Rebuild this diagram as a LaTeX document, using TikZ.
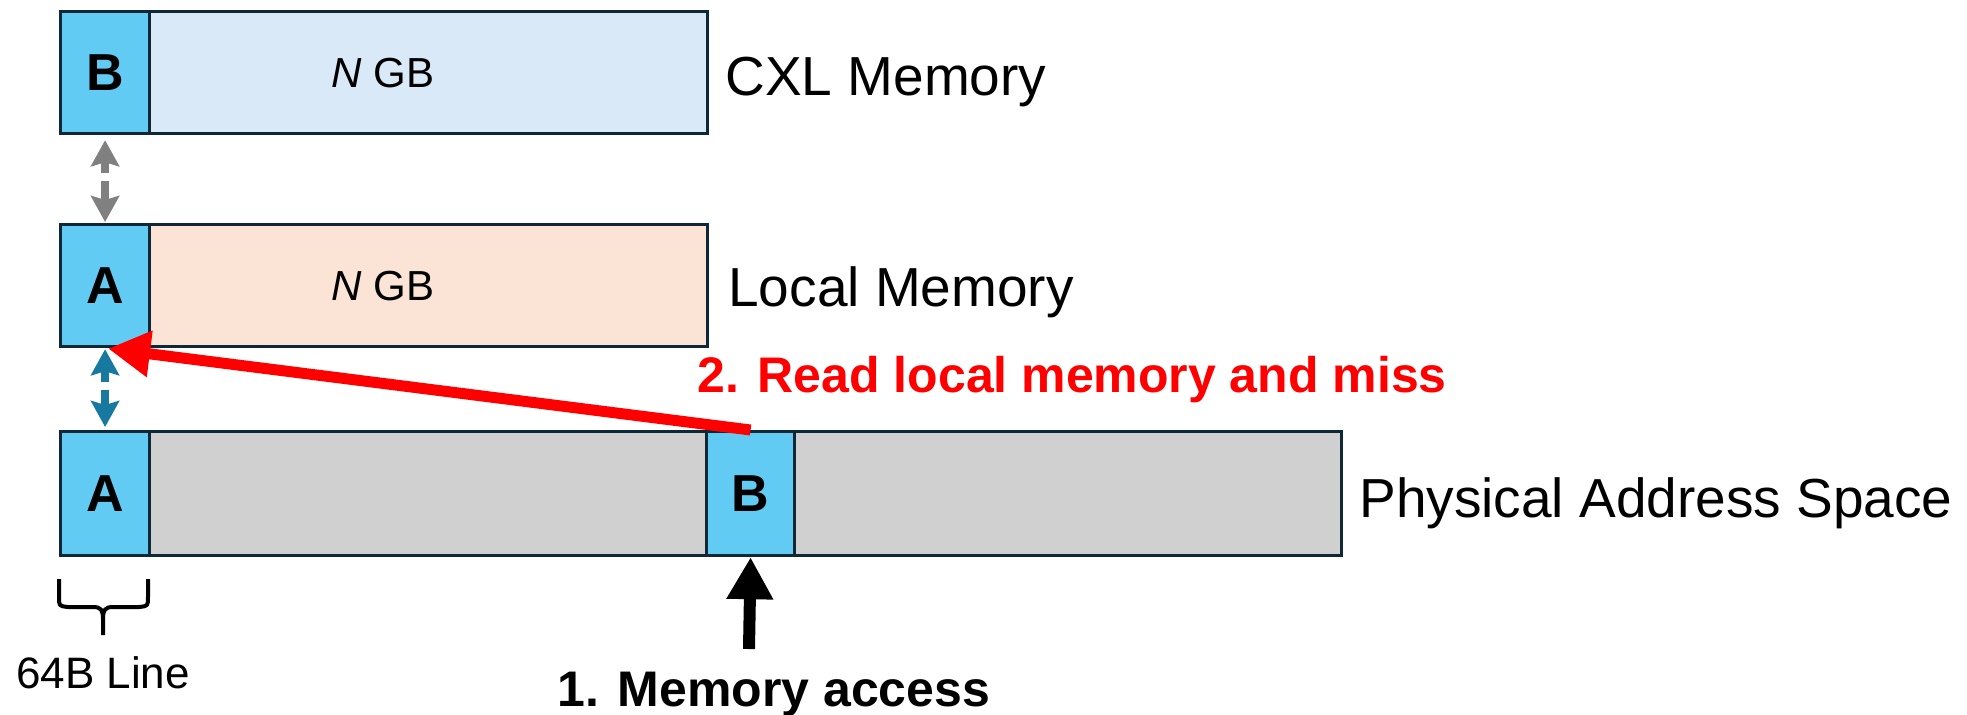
\documentclass[tikz,border=0pt]{standalone}
\usepackage{fontspec}
\setmainfont{Liberation Sans}
\usetikzlibrary{arrows.meta}

\definecolor{edge}{HTML}{0E2838}
\definecolor{cellblue}{HTML}{61CBF3}
\definecolor{cxlfill}{HTML}{DAE9F7}
\definecolor{localfill}{HTML}{FBE3D6}
\definecolor{spacefill}{HTML}{D0D0D0}
\definecolor{linkgray}{HTML}{808080}
\definecolor{linkblue}{HTML}{17799F}
\definecolor{missred}{HTML}{FF0000}

\begin{document}
\begin{tikzpicture}[x=0.5pt,y=-0.5pt,
  bar/.style={draw=edge, line width=1.6pt, rectangle, inner sep=0pt, anchor=north west, minimum height=61pt},
  cell/.style={bar, fill=cellblue, minimum width=44.5pt, font=\fontsize{26}{30}\selectfont\bfseries},
  label/.style={inner sep=0pt, anchor=base west, font=\fontsize{27.5}{33}\selectfont},
  size/.style={inner sep=0pt, font=\fontsize{21}{25}\selectfont},
  step label/.style={inner sep=0pt, anchor=base west, font=\fontsize{25}{30}\selectfont\bfseries},
  linktip/.tip={Stealth[length=13pt,width=14pt,inset=2pt]},
  bothways/.style={line width=4.25pt, linktip-linktip, dash pattern=on 6pt off 4pt on 30pt off 1pt},
  bigarrow/.style={-{Triangle[length=21pt,width=22pt]}}
]
\useasboundingbox (0,0) rectangle (1967,714);

% CXL memory row
\node[bar, fill=cxlfill, minimum width=323.5pt] (cxl) at (59,10) {};
\node[cell] (cxlB) at (59,10) {B};
\node[size] (cxlSize) at (383,73) {\textit{N} GB};
\node[label] (cxlName) at (725,95) {CXL Memory};

% Local memory row
\node[bar, fill=localfill, minimum width=323.5pt] (loc) at (59,223) {};
\node[cell] (locA) at (59,223) {A};
\node[size] (locSize) at (383,286) {\textit{N} GB};
\node[label] (locName) at (728,306) {Local Memory};

% Physical address space row
\node[bar, fill=spacefill, minimum width=640.5pt, minimum height=62pt] (phys) at (59,430) {};
\node[cell, minimum height=62pt] (physA) at (59,430) {A};
\node[cell, minimum height=62pt, minimum width=44pt] (physB) at (705,430) {B};
\node[label] (physName) at (1359,517) {Physical Address Space};

% Line mappings between the rows
\draw[bothways, linkgray, shorten <=2.5pt, shorten >=0.5pt] (cxlB.south) -- (locA.north);
\draw[bothways, linkblue, shorten <=0.5pt, shorten >=1.5pt] (locA.south) -- (physA.north);

% Access path
\coordinate (accessTail) at (749,649);
\draw[bigarrow, line width=6pt, black] (accessTail) -- (physB.south);
\draw[bigarrow, line width=5.5pt, missred, shorten >=1.5pt] (physB.north) -- (locA.south);

\node[step label, text=missred] (missText) at (697,392) {2. Read local memory and miss};
\node[step label] (accessText) at (557,706) {1. Memory access};

% Brace marking one line
\draw[line width=2pt, line join=round] (59,579) -- (59,597) .. controls (59,606) .. (68,607) -- (93,607)
  .. controls (101,607) and (103,610) .. (103,619) -- (103,635);
\draw[line width=2pt, line join=round] (148,579) -- (148,597) .. controls (148,606) .. (139,607) -- (113,607)
  .. controls (105,607) and (103,610) .. (103,619);
\node[inner sep=0pt, anchor=base, font=\fontsize{22}{26}\selectfont] (lineSize) at (103,688) {64B Line};
\end{tikzpicture}
\end{document}
